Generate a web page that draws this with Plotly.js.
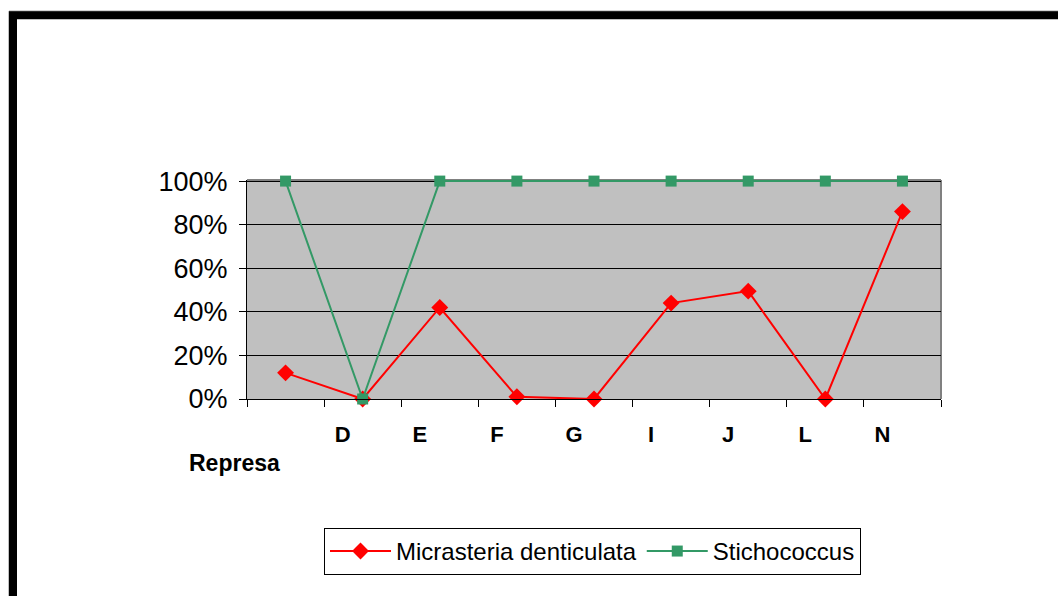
<!DOCTYPE html>
<html>
<head>
<meta charset="utf-8">
<script src="https://cdn.plot.ly/plotly-3.0.1.min.js"></script>
<style>html,body{margin:0;padding:0;background:#fff;}#chart{width:1058px;height:596px;}</style>
</head>
<body>
<div id="chart"></div>
<script>
var categories = [" ", "D", "E", "F", "G", "I", "J", "L", "N"];
var micrasteria = [12, 0, 42, 1, 0, 44, 49.5, 0, 86];
var stichococcus = [100, 0, 100, 100, 100, 100, 100, 100, 100];
var yTicks = [0, 20, 40, 60, 80, 100];
var yTickText = ["0%", "20%", "40%", "60%", "80%", "100%"];
var xAxisLabel = "Represa";
var seriesNames = ["Micrasteria denticulata", "Stichococcus"];

var FONT = "Liberation Sans, Arial, sans-serif";
var L = 247, R = 941, T = 181, B = 399;
var YMAX = 100.5;
var TOP = B - (B - T) * YMAX / 100;
function px(x){ return (x - L) / (R - L); }
function py(y){ return (B - y) / (B - TOP); }

var traces = [
  {
    x: categories, y: micrasteria, name: seriesNames[0], type: "scatter", mode: "lines+markers",
    line: {color: "#ff0000", width: 2},
    marker: {symbol: "diamond", size: 13, color: "#ff0000"},
    cliponaxis: false
  },
  {
    x: categories, y: stichococcus, name: seriesNames[1], type: "scatter", mode: "lines+markers",
    line: {color: "#339966", width: 2},
    marker: {symbol: "square", size: 11, color: "#339966"},
    cliponaxis: false
  }
];

var layout = {
  width: 1058, height: 596,
  margin: {l: L, r: 1058 - R, t: TOP, b: 596 - B, pad: 0},
  paper_bgcolor: "#ffffff",
  plot_bgcolor: "#c0c0c0",
  font: {family: FONT, color: "#000"},
  showlegend: true,
  legend: {
    orientation: "h", x: px(324), y: py(528), xanchor: "left", yanchor: "top",
    bordercolor: "#000", borderwidth: 1, bgcolor: "#fff",
    font: {family: FONT, size: 24, color: "#000"},
    itemwidth: 61
  },
  xaxis: {
    type: "category", categoryorder: "array", categoryarray: categories,
    range: [-0.5, 8.5],
    tickson: "boundaries", ticks: "outside", ticklen: 7, tickcolor: "#000", tickwidth: 1,
    showline: true, linecolor: "#000", linewidth: 1,
    showgrid: false, zeroline: false,
    tickfont: {family: FONT, size: 22, color: "#000", weight: "bold"},
    ticklabelshift: -20, ticklabelstandoff: 16,
    fixedrange: true
  },
  yaxis: {
    range: [0, YMAX], tickmode: "array", tickvals: yTicks, ticktext: yTickText,
    ticks: "outside", ticklen: 7, tickcolor: "#000", tickwidth: 1,
    showline: true, linecolor: "#000", linewidth: 1,
    showgrid: true, gridcolor: "#000", gridwidth: 1, zeroline: false,
    tickfont: {family: FONT, size: 27, color: "#000"},
    ticklabelstandoff: 6,
    fixedrange: true
  },
  annotations: [
    {xref: "paper", yref: "paper", x: px(187), y: py(463), xanchor: "left", yanchor: "middle",
     text: "<b>" + xAxisLabel + "</b>", showarrow: false, font: {family: FONT, size: 23, color: "#000"}}
  ],
  shapes: [
    {type: "line", xref: "paper", yref: "paper", x0: 0, x1: 1, y0: 1, y1: 1, line: {color: "#808080", width: 2}, layer: "below"},
    {type: "line", xref: "paper", yref: "paper", x0: 1, x1: 1, y0: 0, y1: 1, line: {color: "#808080", width: 2}, layer: "below"},
    {type: "rect", xref: "paper", yref: "paper", x0: px(9), x1: px(1200), y0: py(11), y1: py(800), line: {color: "#808080", width: 1}},
    {type: "rect", xref: "paper", yref: "paper", x0: px(13), x1: px(1200), y0: py(15), y1: py(800), line: {color: "#000", width: 8}}
  ]
};

Plotly.newPlot("chart", traces, layout, {displayModeBar: false, staticPlot: true});
</script>
</body>
</html>
